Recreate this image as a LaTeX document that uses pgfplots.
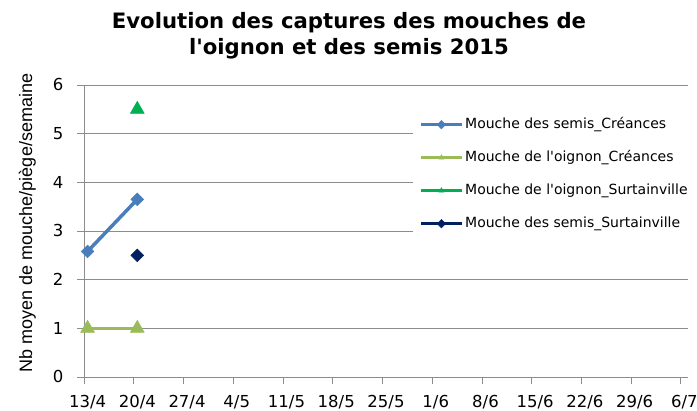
\documentclass[border=0pt]{standalone}
\usepackage{pgfplots}
\pgfplotsset{compat=1.18}
\usepackage{fontspec}
\setmainfont{DejaVu Sans}[Ligatures=TeXOff]
\newfontfamily\lib{Liberation Sans}
\definecolor{cBlue}{HTML}{4A7EBB}
\definecolor{cLG}{HTML}{9BBB59}
\definecolor{cG}{HTML}{00B050}
\definecolor{cN}{HTML}{002060}
\definecolor{cGrid}{HTML}{8C8C8C}
\begin{document}
\begin{tikzpicture}[x=1pt,y=1pt]
\useasboundingbox (0,0) rectangle (697,411);
\begin{axis}[
  at={(84pt,34pt)}, anchor=south west,
  scale only axis, width=604pt, height=292pt,
  xmin=0, xmax=85, ymin=0, ymax=6,
  axis x line*=bottom, axis y line*=left,
  axis line style={draw=cGrid, line width=0.8pt, -},
  xtick={0,7,14,21,28,35,42,49,56,63,70,77,84},
  xticklabels={13/4,20/4,27/4,4/5,11/5,18/5,25/5,1/6,8/6,15/6,22/6,29/6,6/7},
  ytick={0,1,2,3,4,5,6},
  tick align=outside, major tick length=7pt,
  tick style={draw=cGrid, line width=0.8pt},
  ymajorgrids, grid style={draw=cGrid, line width=0.8pt},
  ticklabel style={font=\fontsize{16.5}{19}\selectfont},
  xticklabel style={xshift=3.55pt, yshift=-8pt},
  yticklabel style={xshift=-10pt},
  /pgf/number format/assume math mode=true,
  legend cell align=left,
  legend style={at={(0.5447,0.9144)}, anchor=north west, draw=none, fill=white,
    font=\fontsize{14}{17}\selectfont, inner xsep=6pt, inner ysep=6pt,
    row sep=16pt, nodes={inner sep=1.5pt, text height=11pt, text depth=3pt}},
  legend image code/.code={\draw[#1, line width=3.5pt, mark size=3pt, mark repeat=2, mark phase=2] plot coordinates {(0pt,0pt) (20.5pt,0pt) (41pt,0pt)};},
  clip=false,
]
\addplot[cBlue, line width=3.5pt, mark=square*, mark size=4.5pt, mark options={rotate=45, line width=0.5pt}] coordinates {(0.5,2.58) (7.5,3.65)};
\addlegendentry{Mouche des semis\_Créances}
\addplot[cLG, line width=3pt, mark=triangle*, mark size=8pt, mark options={line width=0.5pt}] coordinates {(0.5,1) (7.5,1)};
\addlegendentry{Mouche de l'oignon\_Créances}
\addplot[cG, line width=3pt, mark=triangle*, mark size=8pt, mark options={line width=0.5pt}] coordinates {(7.5,5.5)};
\addlegendentry{Mouche de l'oignon\_Surtainville}
\addplot[cN, line width=3pt, mark=square*, mark size=4.5pt, mark options={rotate=45, line width=0.5pt}] coordinates {(7.5,2.5)};
\addlegendentry{Mouche des semis\_Surtainville}
\end{axis}
\node[anchor=base, font=\fontsize{21.2}{24}\selectfont\bfseries] at (349,382) {Evolution des captures des mouches de};
\node[anchor=base, font=\fontsize{21.2}{24}\selectfont\bfseries] at (349,356) {l'oignon et des semis 2015};
\node[rotate=90, anchor=base, font=\lib\fontsize{18}{20}\selectfont] at (32,188) {Nb moyen de mouche/piège/semaine};
\end{tikzpicture}
\end{document}
